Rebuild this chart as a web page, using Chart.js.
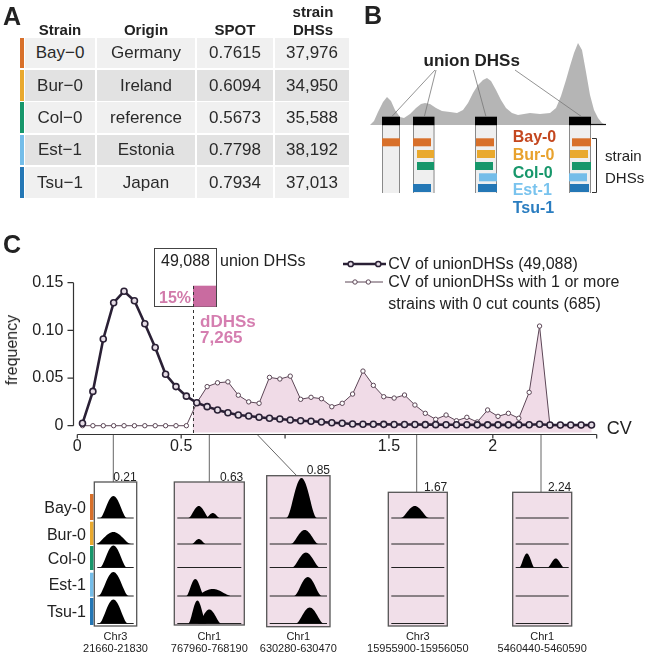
<!DOCTYPE html>
<html>
<head>
<meta charset="utf-8">
<script src="https://cdn.jsdelivr.net/npm/chart.js@4.4.1/dist/chart.umd.min.js"></script>
<style>
  html, body { margin: 0; padding: 0; background: #fff; }
  #stage { position: relative; width: 654px; height: 657px; overflow: hidden;
           font-family: 'Liberation Sans', Arial, sans-serif; color: #222; }
  #deco, #chart { position: absolute; left: 0; top: 0; }
  .t { position: absolute; white-space: nowrap; line-height: 1; }
  .cell { position: absolute; display: flex; align-items: center; justify-content: center;
          font-size: 17px; line-height: 1; color: #2a2a2a; }
</style>
</head>
<body>
<div id="stage">
  <canvas id="deco" width="654" height="657"></canvas>
  <canvas id="chart" width="654" height="657"></canvas>
</div>
<script>
// Panel A table
const strains = ['Bay−0', 'Bur−0', 'Col−0', 'Est−1', 'Tsu−1'];
const origins = ['Germany', 'Ireland', 'reference', 'Estonia', 'Japan'];
const spotScores = ['0.7615', '0.6094', '0.5673', '0.7798', '0.7934'];
const strainDHSs = ['37,976', '34,950', '35,588', '38,192', '37,013'];
const strainColors = ['#d8702a', '#e9a92e', '#17976b', '#74bde9', '#2477b5'];
const strainTextColors = ['#c4471f', '#e8a22d', '#17976b', '#79c3ee', '#2a7dc0'];

// Panel C: frequency of CV per 0.05 bin
const cvBins = [
  0.025, 0.075, 0.125, 0.175, 0.225, 0.275, 0.325, 0.375, 0.425, 0.475,
  0.525, 0.575, 0.625, 0.675, 0.725, 0.775, 0.825, 0.875, 0.925, 0.975,
  1.025, 1.075, 1.125, 1.175, 1.225, 1.275, 1.325, 1.375, 1.425, 1.475,
  1.525, 1.575, 1.625, 1.675, 1.725, 1.775, 1.825, 1.875, 1.925, 1.975,
  2.025, 2.075, 2.125, 2.175, 2.225, 2.275, 2.325, 2.375, 2.425, 2.475
];
const unionFreq = [
  0.0025, 0.036, 0.091, 0.129, 0.141, 0.131, 0.107, 0.082, 0.054, 0.041,
  0.031, 0.024, 0.020, 0.0165, 0.0136, 0.0112, 0.0102, 0.0088, 0.0078, 0.0070,
  0.0060, 0.0052, 0.0046, 0.0039, 0.0031, 0.0025, 0.0018, 0.0016, 0.0015, 0.0014,
  0.0013, 0.0012, 0.0012, 0.0011, 0.0011, 0.0010, 0.0010, 0.0010, 0.0009, 0.0009,
  0.0009, 0.0009, 0.0009, 0.0010, 0.0016, 0.0008, 0.0008, 0.0008, 0.0008, 0.0008
];
const zeroCutFreq = [
  0, 0, 0, 0, 0, 0, 0, 0, 0, 0,
  0, 0.024, 0.041, 0.045, 0.046, 0.032, 0.025, 0.0235, 0.0507, 0.049,
  0.052, 0.0277, 0.0298, 0.0283, 0.0199, 0.0235, 0.0332, 0.0573, 0.0423, 0.0304,
  0.029, 0.0322, 0.0217, 0.013, 0.0067, 0.0112, 0.0052, 0.0088, 0.0039, 0.0165,
  0.0098, 0.013, 0.0078, 0.035, 0.1045, 0, 0, 0, 0, 0
];
const yTicks = [0, 0.05, 0.10, 0.15];
const yTickLabels = ['0', '0.05', '0.10', '0.15'];
const xTicks = [0, 0.5, 1, 1.5, 2, 2.5];
const xTickLabels = ['0', '0.5', '', '1.5', '2', ''];
const dDHSThreshold = 0.556;

const stage = document.getElementById('stage');

function label(text, x, y, o = {}) {
  const el = document.createElement('div');
  el.className = 't';
  el.textContent = text;
  el.style.fontSize = (o.size || 16) + 'px';
  if (o.bold) el.style.fontWeight = 'bold';
  if (o.color) el.style.color = o.color;
  const align = o.align || 'left';
  const tx = align === 'center' ? '-50%' : align === 'right' ? '-100%' : '0';
  el.style.left = x + 'px';
  el.style.top = y + 'px';
  el.style.transform = `translate(${tx}, -50%)` + (o.rotate ? ` rotate(${o.rotate}deg)` : '');
  stage.appendChild(el);
}

function buildTable() {
  const rowTops = [37.7, 70, 102.3, 134.7, 167];
  const rowH = 30.5;
  const cols = [[25, 70], [97, 98], [197, 76], [275, 74]];
  const bg = ['#f0f0f0', '#e2e2e2', '#f0f0f0', '#e2e2e2', '#f0f0f0'];
  rowTops.forEach((top, r) => {
    const values = [strains[r], origins[r], spotScores[r], strainDHSs[r]];
    cols.forEach(([left, w], c) => {
      const el = document.createElement('div');
      el.className = 'cell';
      Object.assign(el.style, { left: left + 'px', top: top + 'px', width: w + 'px', height: rowH + 'px', background: bg[r] });
      el.textContent = values[c];
      stage.appendChild(el);
    });
    const bar = document.createElement('div');
    Object.assign(bar.style, { position: 'absolute', left: '20px', top: top + 'px', width: '4px', height: rowH + 'px', background: strainColors[r] });
    stage.appendChild(bar);
  });
  label('Strain', 60, 29, { size: 15, bold: true, align: 'center' });
  label('Origin', 146, 29, { size: 15, bold: true, align: 'center' });
  label('SPOT', 235, 29, { size: 15, bold: true, align: 'center' });
  label('strain', 313, 11, { size: 15, bold: true, align: 'center' });
  label('DHSs', 313, 29, { size: 15, bold: true, align: 'center' });
}

function bump(c, x0, w, base, peaks) {
  // black coverage peaks on a track baseline
  peaks.forEach(([pc, hw, h]) => {
    const cx = x0 + pc * w, half = hw * w;
    c.beginPath();
    c.moveTo(cx - half, base);
    for (let i = 0; i <= 30; i++) {
      const d = -1 + i / 15;
      const v = Math.pow(1 - d * d, 2);
      c.lineTo(cx + d * half, base - h * v);
    }
    c.closePath();
    c.fill();
  });
}

function drawDeco() {
  const c = document.getElementById('deco').getContext('2d');

  // Panel B silhouette
  const sil = [[370,125],[374,121],[378,112],[383,102],[387,97],[391,101],[395,110],[400,117],[404,118],
    [410,114],[416,108],[421,104],[425,103],[430,104],[436,108],[442,111],[450,112],[457,113],[463,110],
    [468,103],[473,93],[478,85],[483,80],[487,78],[491,81],[496,90],[501,100],[506,108],[512,113],
    [518,115],[530,113],[540,114],[550,113],[556,108],[561,96],[566,80],[570,66],[574,53],[578,43],
    [582,50],[586,72],[590,95],[594,110],[598,118],[602,123],[606,125]];
  c.fillStyle = '#b5b5b5';
  c.beginPath();
  c.moveTo(370, 125);
  sil.forEach(([x, y]) => c.lineTo(x, y));
  c.closePath();
  c.fill();
  c.strokeStyle = '#111'; c.lineWidth = 1.2;
  c.beginPath(); c.moveTo(590, 124.5); c.lineTo(606, 124.5); c.stroke();

  const cols = [[382, 18], [413, 21.5], [475, 22], [569, 22]];
  cols.forEach(([x, w]) => {
    c.fillStyle = '#efefef';
    c.fillRect(x, 125, w, 68);
    c.strokeStyle = '#8a8a8a'; c.lineWidth = 1;
    c.beginPath();
    c.moveTo(x + 0.5, 125); c.lineTo(x + 0.5, 193);
    c.moveTo(x + w - 0.5, 125); c.lineTo(x + w - 0.5, 193);
    c.stroke();
    c.fillStyle = '#000';
    c.fillRect(x, 116.7, w, 8.5);
  });
  const rowsB = [138.3, 150, 162, 173.3, 184];
  const barsB = [
    [[382, 18, 0]],
    [[413, 18, 0], [417, 17, 1], [417, 17, 2], [413, 18, 4]],
    [[476, 18, 0], [477, 18, 1], [475, 18, 2], [479, 18, 3], [478, 19, 4]],
    [[572, 19, 0], [570, 18, 1], [572, 19, 2], [569, 18, 3], [570, 19, 4]]
  ];
  barsB.flat().forEach(([x, w, r]) => {
    c.fillStyle = strainColors[r];
    c.fillRect(x, rowsB[r], w, 8);
  });
  c.strokeStyle = '#777'; c.lineWidth = 0.8;
  [[435, 70, 391.7, 116.7], [436, 70, 424.3, 116.7], [473.3, 70, 486, 116.7], [515, 70, 581.7, 116.7]]
    .forEach(([a, b, d, e]) => { c.beginPath(); c.moveTo(a, b); c.lineTo(d, e); c.stroke(); });
  c.strokeStyle = '#333'; c.lineWidth = 1;
  c.beginPath();
  c.moveTo(592, 138.5); c.lineTo(596.5, 138.5); c.lineTo(596.5, 192.5); c.lineTo(592, 192.5);
  c.stroke();

  // Panel C: box with union DHS count
  c.strokeStyle = '#444'; c.lineWidth = 1;
  c.strokeRect(154.5, 248.5, 62, 58);
  c.fillStyle = '#c96ba0';
  c.fillRect(193, 285.7, 23, 21);

  // legend symbols
  c.strokeStyle = '#2a2035'; c.lineWidth = 2.4;
  c.beginPath(); c.moveTo(343, 264); c.lineTo(386, 264); c.stroke();
  [350.7, 378.3].forEach(x => {
    c.beginPath(); c.arc(x, 264, 2.6, 0, Math.PI * 2);
    c.fillStyle = '#e6dde6'; c.fill(); c.lineWidth = 1.5; c.stroke();
  });
  c.strokeStyle = '#5c4656'; c.lineWidth = 1;
  c.beginPath(); c.moveTo(345, 282); c.lineTo(383, 282); c.stroke();
  [355, 368.3].forEach(x => {
    c.beginPath(); c.arc(x, 282, 2.2, 0, Math.PI * 2);
    c.fillStyle = '#fff'; c.fill(); c.stroke();
  });

  // connectors from CV axis to example tracks
  c.strokeStyle = '#666'; c.lineWidth = 1;
  [[113.3, 434, 113.3, 482], [209.3, 434, 209.3, 482], [256.7, 434, 296.7, 475.7],
   [416.7, 434, 416.7, 492], [541, 434, 541, 492]]
    .forEach(([a, b, d, e]) => { c.beginPath(); c.moveTo(a, b); c.lineTo(d, e); c.stroke(); });

  // strain colour strips
  [[494, 520], [521.7, 545], [546, 570], [572.7, 596.7], [598, 625]].forEach(([a, b], i) => {
    c.fillStyle = strainColors[i];
    c.fillRect(90, a, 3.5, b - a);
  });

  const baselines = [518, 544, 567.5, 596, 623.5];
  const tracks = [
    { x: 94.3, y: 482, w: 42.4, h: 144, fill: '#ffffff',
      peaks: [[[0.45, 0.32, 22]], [[0.45, 0.42, 12]], [[0.45, 0.32, 22]], [[0.45, 0.36, 24]], [[0.45, 0.34, 24]]] },
    { x: 174.3, y: 482, w: 70, h: 143, fill: '#f1dfe9',
      peaks: [[[0.35, 0.15, 12], [0.55, 0.1, 5]], [[0.35, 0.1, 5]], [], [[0.3, 0.13, 17], [0.55, 0.27, 7]], [[0.33, 0.13, 23], [0.5, 0.17, 14]]] },
    { x: 266.7, y: 475.7, w: 63.3, h: 151, fill: '#f1dfe9',
      peaks: [[[0.55, 0.24, 40]], [[0.6, 0.22, 14]], [[0.62, 0.22, 15]], [[0.65, 0.22, 19]], [[0.68, 0.22, 16]]] },
    { x: 388.3, y: 492.3, w: 59, h: 133.7, fill: '#f1dfe9',
      peaks: [[[0.45, 0.24, 12]], [], [], [], []] },
    { x: 512.7, y: 492.3, w: 59, h: 133.7, fill: '#f1dfe9',
      peaks: [[], [], [[0.24, 0.13, 14], [0.73, 0.14, 9]], [], []] }
  ];
  tracks.forEach(t => {
    c.fillStyle = t.fill;
    c.fillRect(t.x, t.y, t.w, t.h);
    c.strokeStyle = '#555'; c.lineWidth = 1.3;
    c.strokeRect(t.x, t.y, t.w, t.h);
    c.fillStyle = '#000';
    t.peaks.forEach((p, r) => {
      const base = Math.min(baselines[r], t.y + t.h - 1.5);
      c.strokeStyle = '#222'; c.lineWidth = 1;
      c.beginPath(); c.moveTo(t.x + 3, base); c.lineTo(t.x + t.w - 3, base); c.stroke();
      bump(c, t.x, t.w, base, p);
    });
  });
}

function drawTexts() {
  label('A', 3, 16, { size: 25, bold: true });
  label('B', 364, 15, { size: 25, bold: true });
  label('C', 3, 244, { size: 25, bold: true });

  label('union DHSs', 471.7, 60, { size: 17, bold: true, align: 'center' });
  const legB = ['Bay-0', 'Bur-0', 'Col-0', 'Est-1', 'Tsu-1'];
  [136.7, 155, 172.7, 190, 208.3].forEach((y, i) =>
    label(legB[i], 512.7, y, { size: 16, bold: true, color: strainTextColors[i] }));
  label('strain', 605, 155, { size: 15 });
  label('DHSs', 605, 176.7, { size: 15 });

  label('49,088', 185.5, 261, { size: 16, align: 'center' });
  label('union DHSs', 220, 261, { size: 16 });
  label('15%', 159, 298, { size: 16, bold: true, color: '#d17aaa' });
  label('dDHSs', 200, 321, { size: 17, bold: true, color: '#d57eb0' });
  label('7,265', 200, 337, { size: 17, bold: true, color: '#d57eb0' });
  label('CV of unionDHSs (49,088)', 388.3, 264, { size: 16 });
  label('CV of unionDHSs with 1 or more', 388.3, 282, { size: 16 });
  label('strains with 0 cut counts (685)', 388.3, 304, { size: 16 });
  label('CV', 606.7, 428, { size: 18 });
  label('frequency', 12, 350, { size: 16, align: 'center', rotate: -90 });

  [['0.21', 136.7, 476.7], ['0.63', 243.3, 476.7], ['0.85', 330, 470], ['1.67', 447.3, 486.7], ['2.24', 571.3, 486.7]]
    .forEach(([s, x, y]) => label(s, x, y, { size: 12, align: 'right' }));
  ['Bay-0', 'Bur-0', 'Col-0', 'Est-1', 'Tsu-1'].forEach((s, i) =>
    label(s, 86, [508.3, 535, 559, 585, 611.7][i], { size: 16, align: 'right' }));
  [['Chr3', '21660-21830', 115.5], ['Chr1', '767960-768190', 209.3], ['Chr1', '630280-630470', 298.3],
   ['Chr3', '15955900-15956050', 417.8], ['Chr1', '5460440-5460590', 542.2]]
    .forEach(([a, b, x]) => {
      label(a, x, 636, { size: 11, align: 'center' });
      label(b, x, 648.3, { size: 11, align: 'center' });
    });
}

// pink fill of the dDHS region + dashed threshold line
const dDHSFill = {
  id: 'dDHSFill',
  beforeDatasetsDraw(chart) {
    const { ctx, chartArea, scales } = chart;
    const meta = chart.getDatasetMeta(1);
    const x0 = scales.x.getPixelForValue(dDHSThreshold);
    const bottom = chartArea.bottom - 1.5;
    const pts = meta.data;
    ctx.save();
    ctx.beginPath();
    ctx.rect(x0, chartArea.top - 20, chartArea.right - x0 + 10, chartArea.bottom - chartArea.top + 20);
    ctx.clip();
    ctx.beginPath();
    ctx.moveTo(pts[0].x, bottom);
    pts.forEach(p => ctx.lineTo(p.x, p.y));
    ctx.lineTo(pts[pts.length - 1].x, bottom);
    ctx.closePath();
    ctx.fillStyle = '#f0dbe7';
    ctx.fill();
    ctx.restore();

    ctx.save();
    ctx.strokeStyle = '#333'; ctx.lineWidth = 1; ctx.setLineDash([3, 3]);
    ctx.beginPath();
    ctx.moveTo(Math.round(x0) + 0.5, 286);
    ctx.lineTo(Math.round(x0) + 0.5, chartArea.bottom);
    ctx.stroke();
    ctx.restore();
  }
};

// R-style detached axes
const rAxes = {
  id: 'rAxes',
  afterDraw(chart) {
    const { ctx, chartArea, scales } = chart;
    const xs = scales.x, ys = scales.y;
    ctx.save();
    ctx.strokeStyle = '#333'; ctx.lineWidth = 1.2;
    const yb = Math.round(chartArea.bottom) + 0.5;
    ctx.beginPath();
    ctx.moveTo(xs.getPixelForValue(xTicks[0]), yb);
    ctx.lineTo(xs.getPixelForValue(xTicks[xTicks.length - 1]), yb);
    xTicks.forEach(v => {
      const px = xs.getPixelForValue(v);
      ctx.moveTo(px, yb); ctx.lineTo(px, yb + 4);
    });
    const xa = Math.round(chartArea.left - 4.6) + 0.5;
    ctx.moveTo(xa, ys.getPixelForValue(yTicks[0]));
    ctx.lineTo(xa, ys.getPixelForValue(yTicks[yTicks.length - 1]));
    yTicks.forEach(v => {
      const py = ys.getPixelForValue(v);
      ctx.moveTo(xa, py); ctx.lineTo(xa - 6, py);
    });
    ctx.stroke();
    ctx.restore();
  }
};

buildTable();
drawDeco();
drawTexts();

Chart.defaults.font.family = "'Liberation Sans', Arial, sans-serif";
Chart.defaults.color = '#222';

new Chart(document.getElementById('chart'), {
  type: 'line',
  data: {
    datasets: [{
      label: 'CV of unionDHSs (49,088)',
      data: cvBins.map((x, i) => ({ x, y: unionFreq[i] })),
      borderColor: '#2a2035',
      borderWidth: 2.6,
      pointRadius: 3,
      pointBorderWidth: 1.6,
      pointBackgroundColor: '#e6dde6',
      pointBorderColor: '#2a2035',
      tension: 0,
      fill: false,
      clip: false,
      order: 0
    }, {
      label: 'CV of unionDHSs with 1 or more strains with 0 cut counts (685)',
      data: cvBins.map((x, i) => ({ x, y: zeroCutFreq[i] })),
      borderColor: '#5c4656',
      borderWidth: 1,
      pointRadius: 2.2,
      pointBorderWidth: 1,
      pointBackgroundColor: '#ffffff',
      pointBorderColor: '#5c4656',
      tension: 0,
      fill: false,
      clip: false,
      order: 1
    }]
  },
  options: {
    responsive: false,
    animation: false,
    events: [],
    layout: { padding: { left: 0, right: 57.3, top: 282.7, bottom: 193 } },
    plugins: { legend: { display: false }, tooltip: { enabled: false } },
    scales: {
      x: {
        type: 'linear',
        min: 0,
        max: 2.5,
        grid: { display: false, drawTicks: false, tickLength: 0 },
        border: { display: false },
        afterBuildTicks: s => { s.ticks = xTicks.map(v => ({ value: v })); },
        afterFit: s => { s.height = 30; },
        ticks: {
          autoSkip: false, maxRotation: 0, padding: 2.5,
          font: { size: 16 },
          callback: (v, i) => xTickLabels[i]
        }
      },
      y: {
        min: -0.0087,
        max: 0.15,
        grid: { display: false, drawTicks: false, tickLength: 0 },
        border: { display: false },
        afterBuildTicks: s => { s.ticks = yTicks.map(v => ({ value: v })); },
        afterFit: s => { s.width = 77.3; },
        ticks: {
          autoSkip: false, padding: 14,
          font: { size: 16 },
          callback: (v, i) => yTickLabels[i]
        }
      }
    }
  },
  plugins: [dDHSFill, rAxes]
});
</script>
</body>
</html>
